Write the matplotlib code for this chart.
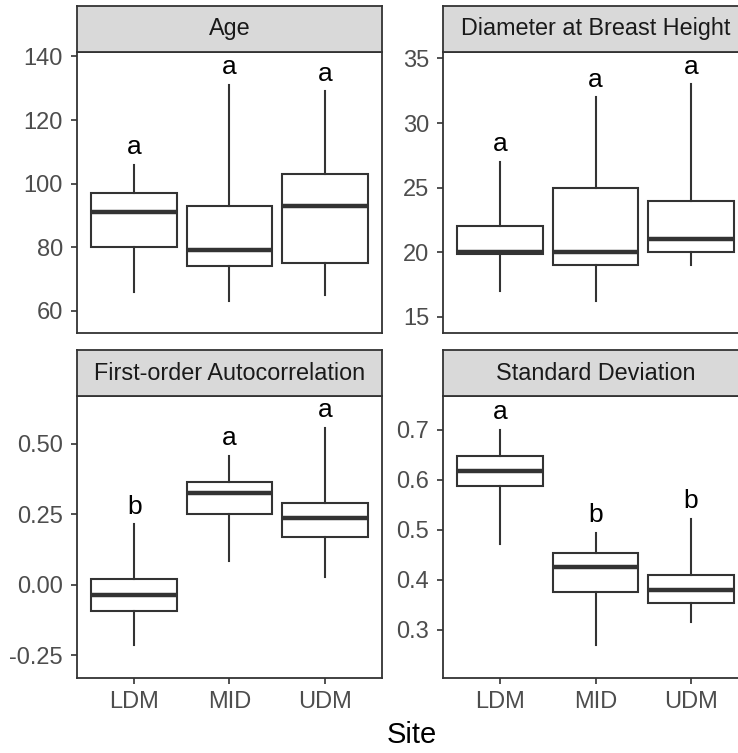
import matplotlib
matplotlib.use("Agg")
import matplotlib.pyplot as plt

plt.rcParams['font.family'] = ['Liberation Sans', 'DejaVu Sans']

sites = ["LDM", "MID", "UDM"]

# Panel titles
panels = ["Age", "Diameter at Breast Height", "First-order Autocorrelation", "Standard Deviation"]

# Box statistics per panel: lower whisker, Q1, median, Q3, upper whisker
age_lo = [66, 63, 65]
age_q1 = [80, 74, 75]
age_med = [91, 79, 93]
age_q3 = [97, 93, 103]
age_hi = [106, 131, 129]
age_letters = ["a", "a", "a"]

dbh_lo = [17, 16.2, 19]
dbh_q1 = [19.9, 19, 20]
dbh_med = [20, 20, 21]
dbh_q3 = [22, 25, 24]
dbh_hi = [27, 32, 33]
dbh_letters = ["a", "a", "a"]

ac_lo = [-0.214, 0.084, 0.028]
ac_q1 = [-0.092, 0.251, 0.171]
ac_med = [-0.037, 0.327, 0.238]
ac_q3 = [0.020, 0.363, 0.289]
ac_hi = [0.214, 0.457, 0.556]
ac_letters = ["b", "a", "a"]

sd_lo = [0.472, 0.269, 0.315]
sd_q1 = [0.587, 0.375, 0.353]
sd_med = [0.617, 0.425, 0.379]
sd_q3 = [0.647, 0.453, 0.409]
sd_hi = [0.700, 0.494, 0.521]
sd_letters = ["a", "b", "b"]

data = [
    (age_lo, age_q1, age_med, age_q3, age_hi, age_letters),
    (dbh_lo, dbh_q1, dbh_med, dbh_q3, dbh_hi, dbh_letters),
    (ac_lo, ac_q1, ac_med, ac_q3, ac_hi, ac_letters),
    (sd_lo, sd_q1, sd_med, sd_q3, sd_hi, sd_letters),
]

ylims = [(53.0, 141.4), (13.76, 35.5), (-0.331, 0.67), (0.203, 0.767)]
yticks = [
    [60, 80, 100, 120, 140],
    [15, 20, 25, 30, 35],
    [-0.25, 0.0, 0.25, 0.5],
    [0.3, 0.4, 0.5, 0.6, 0.7],
]
yticklabels = [
    ["60", "80", "100", "120", "140"],
    ["15", "20", "25", "30", "35"],
    ["-0.25", "0.00", "0.25", "0.50"],
    ["0.3", "0.4", "0.5", "0.6", "0.7"],
]

W, H = 738, 753
fig = plt.figure(figsize=(W / 100, H / 100), dpi=100)

# pixel boxes (left, top, right, bottom) for panels
panel_px = [
    (77, 52, 382, 333),
    (443, 52, 748, 333),
    (77, 396, 382, 678),
    (443, 396, 748, 678),
]
strip_h = 46

dark = "#333333"

for i, (l, t, r, b) in enumerate(panel_px):
    ax = fig.add_axes([l / W, 1 - b / H, (r - l) / W, (b - t) / H])
    lo, q1, med, q3, hi, letters = data[i]
    stats = []
    for k in range(3):
        stats.append(dict(whislo=lo[k], q1=q1[k], med=med[k], q3=q3[k], whishi=hi[k], fliers=[]))
    ax.bxp(stats, positions=[1, 2, 3], widths=0.9, showfliers=False, showcaps=False,
           patch_artist=True,
           boxprops=dict(facecolor="white", edgecolor=dark, linewidth=1.5),
           whiskerprops=dict(color=dark, linewidth=1.5),
           medianprops=dict(color=dark, linewidth=3.2, solid_capstyle="butt"))
    rng = ylims[i][1] - ylims[i][0]
    for k in range(3):
        ax.text(k + 1, hi[k] + rng * 0.02, letters[k], ha="center", va="bottom",
                fontsize=19, color="black")
    ax.set_xlim(0.4, 3.6)
    ax.set_ylim(*ylims[i])
    ax.set_yticks(yticks[i])
    ax.set_yticklabels(yticklabels[i])
    ax.set_xticks([1, 2, 3])
    if i >= 2:
        ax.set_xticklabels(sites)
    else:
        ax.set_xticklabels([])
        ax.tick_params(axis="x", length=0)
    ax.tick_params(axis="both", colors=dark, labelcolor="#4D4D4D", labelsize=17,
                   width=1.2, direction="out")
    ax.tick_params(axis="y", length=4.5, pad=5.5)
    if i >= 2:
        ax.tick_params(axis="x", length=4.5, pad=4.5)
    for s in ax.spines.values():
        s.set_color(dark)
        s.set_linewidth(1.3)
    ax.set_axisbelow(False)

    # strip
    sax = fig.add_axes([l / W, 1 - t / H, (r - l) / W, strip_h / H])
    sax.set_facecolor("#D9D9D9")
    sax.set_xticks([])
    sax.set_yticks([])
    for s in sax.spines.values():
        s.set_color(dark)
        s.set_linewidth(1.3)
    sax.text(0.5, 0.5, panels[i], ha="center", va="center", fontsize=16.8,
             color="#1A1A1A", transform=sax.transAxes)

fig.text(412 / W, 1 - 735 / H, "Site", ha="center", va="center", fontsize=21, color="black")

fig.savefig("out.png", dpi=100, facecolor="white")
